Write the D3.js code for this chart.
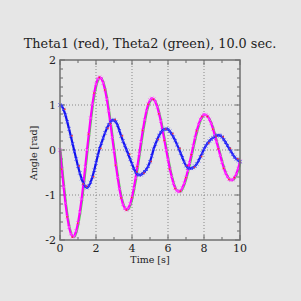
<!DOCTYPE html>
<html><head><meta charset="utf-8">
<script src="https://cdn.jsdelivr.net/npm/d3@7"></script>
<style>html,body{margin:0;padding:0;background:#e6e6e6;}svg{display:block;}</style>
</head><body>
<script>
const times = d3.range(0, 101).map(i => i / 10);
const theta1 = [
 0.00,-0.42,-0.82,-1.18,-1.48,-1.71,-1.86,-1.93,-1.91,-1.80,
-1.62,-1.38,-1.09,-0.75,-0.38, 0.00, 0.36, 0.71, 1.02, 1.27,
 1.46, 1.58, 1.62, 1.59, 1.49, 1.34, 1.13, 0.87, 0.59, 0.28,
-0.02,-0.33,-0.61,-0.86,-1.06,-1.21,-1.30,-1.33,-1.29,-1.20,
-1.05,-0.85,-0.62,-0.36,-0.09, 0.18, 0.44, 0.67, 0.87, 1.02,
 1.11, 1.15, 1.13, 1.07, 0.96, 0.81, 0.64, 0.43, 0.22, 0.00,
-0.21,-0.42,-0.59,-0.74,-0.85,-0.91,-0.93,-0.91,-0.84,-0.74,
-0.61,-0.46,-0.28,-0.10, 0.09, 0.27, 0.43, 0.57, 0.68, 0.75,
 0.79, 0.78, 0.75, 0.68, 0.59, 0.47, 0.33, 0.18, 0.03,-0.12,
-0.27,-0.40,-0.51,-0.59,-0.65,-0.67,-0.66,-0.61,-0.53,-0.41,
-0.25];
const theta2 = [
 1.00, 0.98, 0.90, 0.78, 0.63, 0.47, 0.31, 0.14,-0.03,-0.20,
-0.36,-0.51,-0.64,-0.74,-0.81,-0.84,-0.80,-0.72,-0.60,-0.45,
-0.29,-0.12, 0.03, 0.15, 0.27, 0.38, 0.48, 0.56, 0.62, 0.66,
 0.67, 0.63, 0.55, 0.43, 0.31, 0.20, 0.10, 0.00,-0.10,-0.21,
-0.31,-0.41,-0.49,-0.54,-0.56,-0.55,-0.52,-0.48,-0.43,-0.36,
-0.26,-0.13, 0.02, 0.13, 0.23, 0.32, 0.39, 0.44, 0.46, 0.47,
 0.46, 0.42, 0.36, 0.29, 0.21, 0.12, 0.03,-0.07,-0.17,-0.27,
-0.35,-0.40,-0.41,-0.41,-0.39,-0.36,-0.31,-0.24,-0.15,-0.07,
 0.02, 0.09, 0.15, 0.20, 0.24, 0.27, 0.30, 0.32, 0.33, 0.32,
 0.29, 0.23, 0.17, 0.10, 0.03,-0.03,-0.10,-0.16,-0.20,-0.23,
-0.26];
const xTicks = [0, 2, 4, 6, 8, 10];
const yTicks = [-2, -1, 0, 1, 2];
const xMinor = d3.range(0, 11, 1);
const yMinor = d3.range(-2, 2.001, 0.2);
const title = "Theta1 (red), Theta2 (green), 10.0 sec.";

const W = 301, H = 301;
const svg = d3.select("body").append("svg").attr("width", W).attr("height", H);
svg.append("rect").attr("width", W).attr("height", H).attr("fill", "#e6e6e6");
const x = d3.scaleLinear().domain([0, 10]).range([60, 240]);
const y = d3.scaleLinear().domain([-2, 2]).range([240, 60]);
const font = "'DejaVu Serif', 'Liberation Serif', serif";

// grid
const g = svg.append("g");
g.selectAll(".gx").data(xTicks.slice(1, -1)).join("line")
  .attr("x1", d => x(d)).attr("x2", d => x(d)).attr("y1", 60).attr("y2", 240)
  .attr("stroke", "#888").attr("stroke-width", 1).attr("stroke-dasharray", "1,2");
g.selectAll(".gy").data(yTicks.slice(1, -1)).join("line")
  .attr("y1", d => y(d)).attr("y2", d => y(d)).attr("x1", 60).attr("x2", 240)
  .attr("stroke", "#888").attr("stroke-width", 1).attr("stroke-dasharray", "1,2");

// ticks (inward, all sides)
const tk = svg.append("g").attr("stroke", "#666").attr("stroke-width", 1);
xMinor.forEach(d => {
  const len = (d % 2 === 0) ? 5 : 3;
  tk.append("line").attr("x1", x(d)).attr("x2", x(d)).attr("y1", 240).attr("y2", 240 - len);
  tk.append("line").attr("x1", x(d)).attr("x2", x(d)).attr("y1", 60).attr("y2", 60 + len);
});
yMinor.forEach(d => {
  const major = Math.abs(d - Math.round(d)) < 1e-6;
  const len = major ? 5 : 3;
  tk.append("line").attr("y1", y(d)).attr("y2", y(d)).attr("x1", 60).attr("x2", 60 + len);
  tk.append("line").attr("y1", y(d)).attr("y2", y(d)).attr("x1", 240).attr("x2", 240 - len);
});

// series
const line1 = d3.line().x((d, i) => x(times[i])).y(d => y(d));
svg.append("path").datum(theta1).attr("d", d3.line().x((d, i) => x(times[i]) + 0.9).y(d => y(d) + 0.4))
  .attr("fill", "none").attr("stroke", "#4d4").attr("stroke-width", 1.5);
svg.append("path").datum(theta1).attr("d", line1)
  .attr("fill", "none").attr("stroke", "#f0f").attr("stroke-width", 2.2);
svg.append("path").datum(theta2).attr("d", line1)
  .attr("fill", "none").attr("stroke", "#11e").attr("stroke-width", 2.2);

function crosses(data, color, s) {
  const gm = svg.append("g").attr("stroke", color).attr("stroke-width", 0.9);
  data.forEach((d, i) => {
    const cx = x(times[i]), cy = y(d);
    gm.append("path").attr("d", `M${cx - s},${cy - s}L${cx + s},${cy + s}M${cx - s},${cy + s}L${cx + s},${cy - s}`);
  });
}
crosses(theta1, "#f4f", 1.6);
crosses(theta2, "#44f", 1.6);
// red specks
const rg = svg.append("g").attr("fill", "#e33");
theta1.forEach((d, i) => { if (i % 3 === 1) rg.append("rect").attr("x", x(times[i]) - 1).attr("y", y(d) - 0.5).attr("width", 1.5).attr("height", 1.5); });
theta2.forEach((d, i) => { if (i % 4 === 2) rg.append("rect").attr("x", x(times[i]) + 0.5).attr("y", y(d) - 1).attr("width", 1.5).attr("height", 1.5); });

// frame
svg.append("rect").attr("x", 60).attr("y", 60).attr("width", 180).attr("height", 180)
  .attr("fill", "none").attr("stroke", "#707070").attr("stroke-width", 1.5);

// tick labels
svg.selectAll(".xl").data(xTicks).join("text")
  .attr("x", d => x(d)).attr("y", 252).attr("text-anchor", "middle")
  .attr("font-family", font).attr("font-size", 11).attr("fill", "#222").text(d => d);
svg.selectAll(".yl").data(yTicks).join("text")
  .attr("x", 56).attr("y", d => y(d) + 4).attr("text-anchor", "end")
  .attr("font-family", font).attr("font-size", 11).attr("fill", "#222").text(d => d);

svg.append("text").attr("x", 150).attr("y", 263).attr("text-anchor", "middle")
  .attr("font-family", font).attr("font-size", 9.5).attr("fill", "#222").text("Time [s]");
svg.append("text").attr("transform", "translate(37,153) rotate(-90)").attr("text-anchor", "middle")
  .attr("font-family", font).attr("font-size", 9.5).attr("fill", "#222").text("Angle [rad]");
svg.append("text").attr("x", 150).attr("y", 48).attr("text-anchor", "middle")
  .attr("font-family", font).attr("font-size", 12.8).attr("fill", "#222").text(title);
</script>
</body></html>
